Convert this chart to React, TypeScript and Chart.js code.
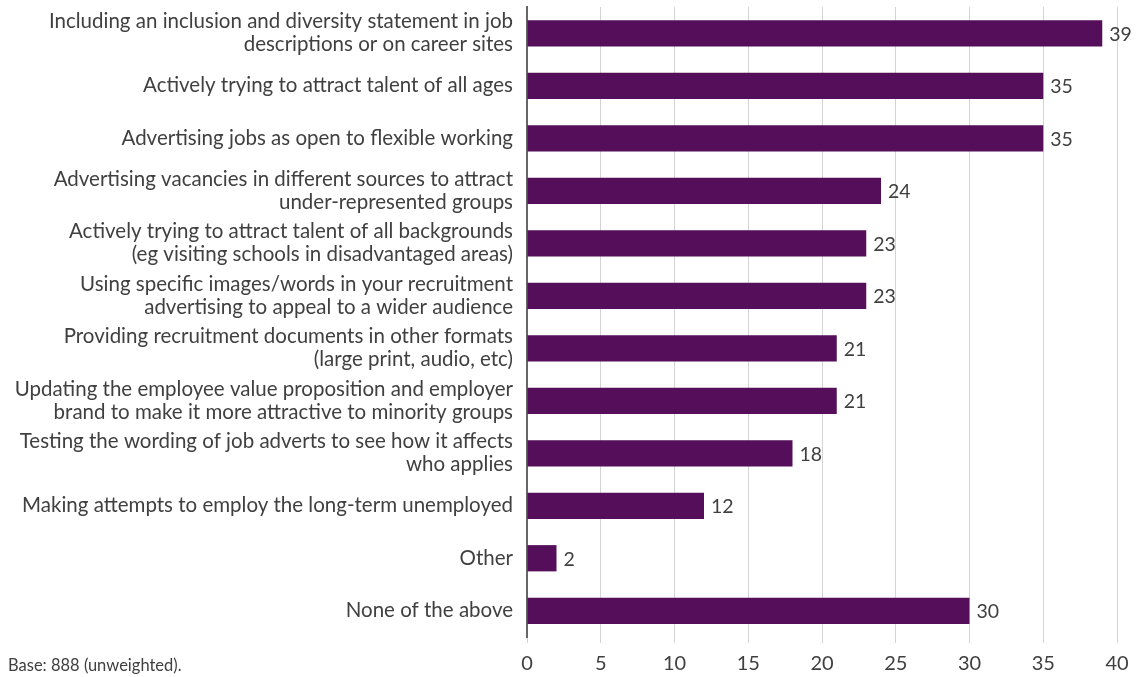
import React, { useEffect, useRef } from "react";
import { Chart, registerables } from "chart.js";

Chart.register(...registerables);

const categories: (string | string[])[] = [
  ["Including an inclusion and diversity statement in job", "descriptions or on career sites"],
  "Actively trying to attract talent of all ages",
  "Advertising jobs as open to flexible working",
  ["Advertising vacancies in different sources to attract", "under-represented groups"],
  ["Actively trying to attract talent of all backgrounds", "(eg visiting schools in disadvantaged areas)"],
  ["Using specific images/words in your recruitment", "advertising to appeal to a wider audience"],
  ["Providing recruitment documents in other formats", "(large print, audio, etc)"],
  ["Updating the employee value proposition and employer", "brand to make it more attractive to minority groups"],
  ["Testing the wording of job adverts to see how it affects", "who applies"],
  "Making attempts to employ the long-term unemployed",
  "Other",
  "None of the above",
];

const values: number[] = [39, 35, 35, 24, 23, 23, 21, 21, 18, 12, 2, 30];

const xTicks = { min: 0, max: 40, step: 5 };

const footnote = "Base: 888 (unweighted).";

const FONT = "Lato, 'Open Sans', sans-serif";
const TEXT = "#404040";
const BAR = "#540E5A";

const valueLabels = {
  id: "valueLabels",
  afterDatasetsDraw(chart: any) {
    const ctx = chart.ctx;
    const meta = chart.getDatasetMeta(0);
    ctx.save();
    ctx.font = `19.5px ${FONT}`;
    ctx.fillStyle = TEXT;
    ctx.textAlign = "left";
    ctx.textBaseline = "middle";
    meta.data.forEach((el: any, i: number) => {
      ctx.fillText(String(values[i]), el.x + 7, el.y + 1);
    });
    ctx.restore();
  },
};

export default function App() {
  const ref = useRef<HTMLCanvasElement | null>(null);
  useEffect(() => {
    if (!ref.current) return;
    const chart = new Chart(ref.current, {
      type: "bar",
      data: {
        labels: categories,
        datasets: [
          {
            data: values,
            backgroundColor: BAR,
            barPercentage: 0.5,
            categoryPercentage: 1,
          },
        ],
      },
      options: {
        indexAxis: "y",
        animation: false,
        responsive: false,
        maintainAspectRatio: false,
        layout: { padding: { top: 7, right: 27, bottom: 0, left: 0 } },
        plugins: { legend: { display: false }, tooltip: { enabled: false } },
        scales: {
          x: {
            min: xTicks.min,
            max: xTicks.max,
            ticks: {
              stepSize: xTicks.step,
              color: TEXT,
              font: { family: FONT, size: 20 },
              padding: 9,
            },
            grid: { color: "#d4d4d4", lineWidth: 1, tickLength: 6 },
            border: { display: false },
            afterFit(scale: any) {
              scale.height = 40;
              scale.paddingLeft = 0;
              scale.paddingRight = 0;
            },
          },
          y: {
            ticks: {
              color: TEXT,
              font: { family: FONT, size: 20.5, lineHeight: 1.13 },
              padding: 14,
            },
            grid: { display: false, drawTicks: false },
            border: { display: true, color: "#666666", width: 2 },
            afterFit(scale: any) {
              scale.width = 527;
              scale.paddingTop = 0;
              scale.paddingBottom = 0;
            },
          },
        },
      },
      plugins: [valueLabels],
    });
    return () => chart.destroy();
  }, []);
  return (
    <div style={{ position: "fixed", left: 0, top: 0, width: 1144, height: 677, background: "#fff" }}>
      <canvas ref={ref} width={1144} height={677} style={{ display: "block" }} />
      <div
        style={{
          position: "absolute",
          left: 8,
          top: 655,
          fontFamily: FONT,
          fontSize: 16.5,
          color: TEXT,
          whiteSpace: "nowrap",
        }}
      >
        {footnote}
      </div>
    </div>
  );
}
